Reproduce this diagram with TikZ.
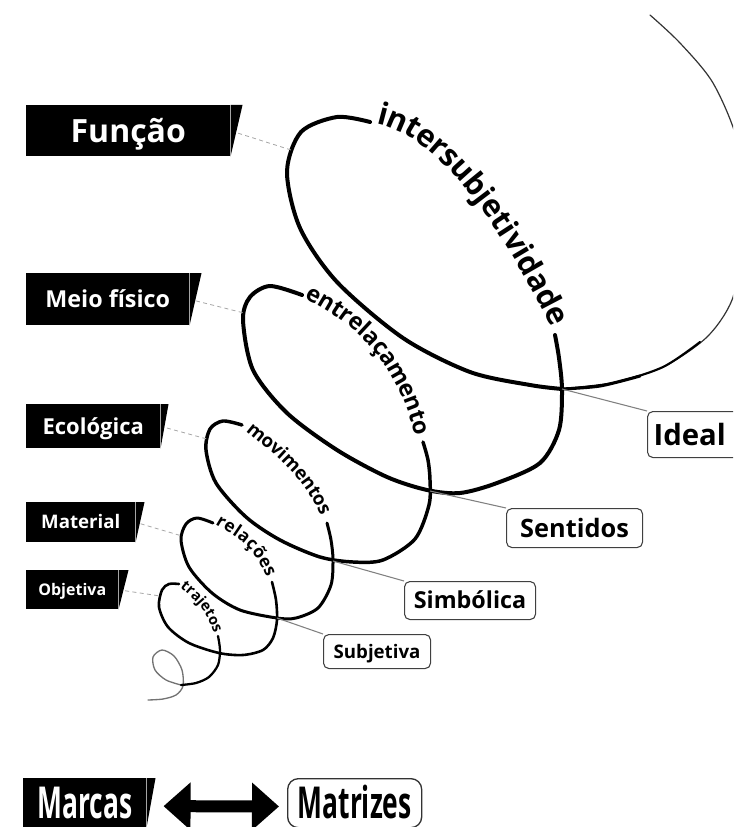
\documentclass[tikz,border=0pt]{standalone}
\usepackage{fontspec}
\setmainfont{Open Sans}
\newfontfamily\condfont[FakeStretch=0.6]{Open Sans}
\usetikzlibrary{decorations.text,arrows.meta}
\begin{document}
\begin{tikzpicture}[x=0.75pt,y=-0.75pt,
  lbl/.style={fill=black,text=white,inner sep=0pt,anchor=north west,
    font=\bfseries\fontsize{#1pt}{#1pt}\selectfont,text height=0.714*#1pt,text depth=0pt},
  wbox/.style={draw=black!75,line width=0.8pt,rounded corners=4pt,fill=white,inner sep=0pt,
    anchor=north west,font=\bfseries\fontsize{#1pt}{#1pt}\selectfont,text height=0.714*#1pt,text depth=0pt},
  dconn/.style={draw=black!35,dash pattern=on 3pt off 2.5pt,line width=0.6pt},
  sconn/.style={draw=black!50,line width=0.8pt},
  coil/.style={line cap=round,line join=round},
  ]
\useasboundingbox (0,0) rectangle (733,827);
\clip (0,0) rectangle (733,827);

% ---------- spiral ----------
\draw[coil,black!55,line width=1pt] plot[smooth] coordinates {(148,700) (163,699) (176,695) (183,686) (182,670) (174,656) (162,650) (153,657) (155,670) (166,680) (181,685)};
\draw[coil,line width=1.7pt] plot[smooth] coordinates {(181,685) (196,683) (209,677) (218,665) (220,650) (218,636)};
\path[decorate,decoration={text along path,text={|\bfseries\fontsize{11pt}{11pt}\selectfont|trajetos},text align=fit to path,raise=-2.4pt}]
  (182,585) .. controls (201.1,600.7) and (207.6,607.3) .. (217,632);
\draw[coil,line width=1.95pt] plot[smooth] coordinates {(179,584) (169,584) (162,590) (159,607) (168,627) (189,643) (219,653) (243,655) (263,650) (273,638) (277,620) (276,600) (272,582)};
\path[decorate,decoration={text along path,text={|\bfseries\fontsize{13pt}{13pt}\selectfont|relações},text align=fit to path,raise=-2.8pt}]
  (217,521) .. controls (244.7,537.6) and (255.9,544) .. (270,576);
\draw[coil,line width=2.25pt] plot[smooth] coordinates {(213,523) (197,518) (186,524) (181,540) (189,567) (212,593) (240,610) (277,618) (296,618) (318,608) (331,585) (333,560) (331,540) (327,523)};
\path[decorate,decoration={text along path,text={|\bfseries\fontsize{14pt}{14pt}\selectfont|movimentos},text align=fit to path,raise=-3pt}]
  (248,428) .. controls (280.5,454.1) and (306.5,474.2) .. (324,514);
\draw[coil,line width=2.6pt] plot[smooth] coordinates {(242,425) (223,421) (210,429) (206,450) (216,483) (246,517) (280,540) (320,557) (353,562) (383,560) (415,539) (429,505) (430,480) (428,460) (423,442)};
\path[decorate,decoration={text along path,text={|\bfseries\fontsize{17.5pt}{17.5pt}\selectfont|entrelaçamento},text align=fit to path,raise=-3.8pt}]
  (307,294) .. controls (368,324) and (401,365) .. (419,430);
\draw[coil,line width=3pt] plot[smooth] coordinates {(302,295) (270,286) (250,297) (243,320) (253,370) (287,413) (337,450) (387,477) (427,490) (460,493) (497,483) (540,463) (559,430) (562,390) (559,358) (555,335)};
\path[decorate,decoration={text along path,text={|\bfseries\fontsize{23pt}{23pt}\selectfont|intersubjetividade},text align=fit to path,raise=-5pt}]
  (378,117) .. controls (456,133) and (524,258) .. (556,322);
\draw[coil,line width=3pt] plot[smooth] coordinates {(370,122) (337,117) (301,132) (287,172) (300,228) (337,282) (403,338) (470,372) (530,385) (562,389)};
\draw[coil,black!80,line width=0.9pt] plot[smooth] coordinates {(562,389) (613,383) (663,367) (707,337) (732,300) (741,250) (742,200) (737,140) (713,83) (680,43) (650,15)};
\draw[coil,line width=1.6pt] plot[smooth] coordinates {(562,389) (613,383) (663,367) (700,342)};
\draw[coil,line width=2.3pt] plot[smooth] coordinates {(562,389) (600,386) (640,376)};

\coordinate (xI) at (562,389);
\coordinate (xE) at (430,491);
\coordinate (xM) at (333,561);
\coordinate (xR) at (277,618);
\coordinate (pI) at (291,150);
\coordinate (pE) at (244,313);
\coordinate (pM) at (207,439);
\coordinate (pR) at (182,536);
\coordinate (pT) at (160,596);

% ---------- left labels ----------
\node[lbl=24,minimum width=153pt,minimum height=38.25pt] (fun) at (26,105) {Função};
\fill (fun.north east) -- ++(12,0) -- (fun.south east) -- cycle;
\node[lbl=17.5,minimum width=122.25pt,minimum height=39pt] (meio) at (26,273) {Meio físico};
\fill (meio.north east) -- ++(12,0) -- (meio.south east) -- cycle;
\node[lbl=16.5,minimum width=100.5pt,minimum height=33pt] (eco) at (26,404) {Ecológica};
\fill (eco.north east) -- ++(8,0) -- (eco.south east) -- cycle;
\node[lbl=14,minimum width=81.75pt,minimum height=30pt] (mat) at (26,502) {Material};
\fill (mat.north east) -- ++(9,0) -- (mat.south east) -- cycle;
\node[lbl=12,minimum width=69pt,minimum height=29.25pt] (obj) at (26,570) {Objetiva};
\fill (obj.north east) -- ++(10,0) -- (obj.south east) -- cycle;

\draw[dconn,shorten <=6pt] (fun.east) -- (pI);
\draw[dconn,shorten <=5pt] (meio.east) -- (pE);
\draw[dconn,shorten <=5pt] (eco.east) -- (pM);
\draw[dconn,shorten <=4pt] (mat.east) -- (pR);
\draw[dconn,shorten <=5pt] (obj.east) -- (pT);

% ---------- right boxes ----------
\node[wbox=22,inner xsep=4.5pt,text width=70pt,align=left,minimum height=34.5pt] (ideal) at (647,411) {Ideal};
\node[wbox=19,minimum width=102pt,minimum height=29.25pt] (sent) at (506,508) {Sentidos};
\node[wbox=17.5,minimum width=98.25pt,minimum height=28.5pt] (simb) at (404,581) {Simbólica};
\node[wbox=14,minimum width=80.25pt,minimum height=25.5pt] (subj) at (323,634) {Subjetiva};

\draw[sconn] (xI) -- (ideal.north west);
\draw[sconn] (xE) -- (sent.north west);
\draw[sconn] (xM) -- (simb.north west);
\draw[sconn] (xR) -- (subj.north west);

% ---------- bottom ----------
\node[fill=black,text=white,inner sep=0pt,anchor=north west,minimum width=92.25pt,minimum height=36.75pt,
  font=\condfont\bfseries\fontsize{33pt}{33pt}\selectfont,text height=23.6pt,text depth=0pt] (marcas) at (23,778) {Marcas};
\fill (marcas.north east) -- ++(9,0) -- (marcas.south east) -- cycle;
\node[draw=black!80,line width=1pt,rounded corners=8pt,inner sep=0pt,anchor=north west,minimum width=100.5pt,minimum height=36.75pt,
  font=\condfont\bfseries\fontsize{33pt}{33pt}\selectfont,text height=23.6pt,text depth=0pt] (matr) at (287,778) {Matrizes};
\draw[line width=9pt,{Triangle[length=20.25pt,width=34.5pt]}-{Triangle[length=20.25pt,width=34.5pt]},
  shorten <=12.75pt,shorten >=6pt] ([yshift=-2.5pt]marcas.east) -- ([yshift=-2.5pt]matr.west);
\end{tikzpicture}
\end{document}
